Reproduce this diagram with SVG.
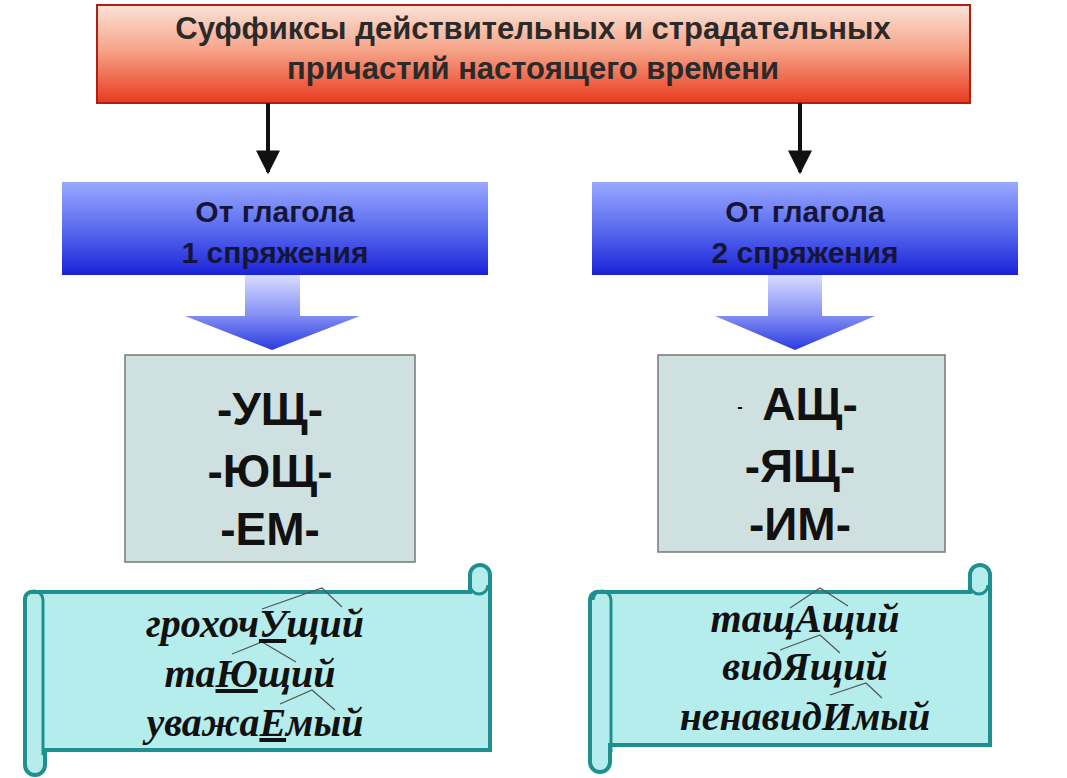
<svg xmlns="http://www.w3.org/2000/svg" width="1067" height="778" viewBox="0 0 1067 778">
<defs>
<linearGradient id="red" x1="0" y1="0" x2="0" y2="1"><stop offset="0" stop-color="#fbe3d6"/><stop offset="0.45" stop-color="#f6a58a"/><stop offset="1" stop-color="#e83a1e"/></linearGradient>
<linearGradient id="blue" x1="0" y1="0" x2="0" y2="1"><stop offset="0" stop-color="#9aa8ff"/><stop offset="0.5" stop-color="#5a6cf0"/><stop offset="1" stop-color="#1a22d8"/></linearGradient>
<linearGradient id="barrow" x1="0" y1="0" x2="0" y2="1"><stop offset="0" stop-color="#d8dcff"/><stop offset="0.5" stop-color="#8a95f5"/><stop offset="1" stop-color="#2a3ae0"/></linearGradient>
<marker id="ah" viewBox="0 0 10 10" refX="9" refY="5" markerWidth="6" markerHeight="6" orient="auto"><path d="M0,0 L10,5 L0,10 z" fill="#111"/></marker>
<style>
.h{font-family:"Liberation Sans",Arial,sans-serif;font-weight:bold;text-anchor:middle}
.t{font-size:31px;fill:#2a2a2a}
.b{font-size:30px;fill:#15153a}
.s{font-size:46px;fill:#111}
.w{font-family:"Liberation Serif","Times New Roman",serif;font-style:italic;font-weight:bold;font-size:40px;fill:#111;text-anchor:middle}
.box{fill:#cfe0e0;stroke:#777;stroke-width:1.5}
.scroll{fill:#b5ecec;stroke:#1f8f8f;stroke-width:4}
.tick{stroke:#555;stroke-width:1.2;fill:none}
</style>
</defs>
<g id="title">
<rect x="97" y="5" width="873" height="98" fill="url(#red)" stroke="#b02010" stroke-width="2"/>
<text class="h t" x="533" y="39">Суффиксы действительных и страдательных</text>
<text class="h t" x="533" y="79">причастий настоящего времени</text>
</g>
<g id="connectors">
<line x1="268" y1="103" x2="268" y2="172" stroke="#111" stroke-width="4" marker-end="url(#ah)"/>
<line x1="800" y1="103" x2="800" y2="172" stroke="#111" stroke-width="4" marker-end="url(#ah)"/>
<path d="M245,275 H300 V316 H360 L272,350 L185,316 H245 Z" fill="url(#barrow)"/>
<path d="M768,275 H822 V316 H875 L795,350 L715,316 H768 Z" fill="url(#barrow)"/>
</g>
<g id="conj1">
<rect x="62" y="182" width="426" height="93" fill="url(#blue)"/>
<text class="h b" x="275" y="222">От глагола</text>
<text class="h b" x="275" y="263">1 спряжения</text>
</g>
<g id="conj2">
<rect x="592" y="182" width="426" height="93" fill="url(#blue)"/>
<text class="h b" x="805" y="222">От глагола</text>
<text class="h b" x="805" y="263">2 спряжения</text>
</g>
<g id="suf1">
<rect class="box" x="125" y="355" width="290" height="207"/>
<text class="h s" x="270" y="425">-УЩ-</text>
<text class="h s" x="270" y="487">-ЮЩ-</text>
<text class="h s" x="270" y="545">-ЕМ-</text>
</g>
<g id="suf2">
<rect class="box" x="658" y="355" width="287" height="197"/>
<text class="h" x="740" y="412" style="font-size:16px">-</text>
<text class="h s" x="810" y="420">АЩ-</text>
<text class="h s" x="800" y="482">-ЯЩ-</text>
<text class="h s" x="800" y="540">-ИМ-</text>
</g>
<g id="ex1">
<path class="scroll" d="M30,592 H470 V575 a10,10 0 0 1 20,0 V750 H45 V765 a10,10 0 0 1 -20,0 V600 a8,8 0 0 1 5,-8 Z"/>
<path d="M25,600 a9,9 0 0 1 18,0 V755" fill="none" stroke="#1f8f8f" stroke-width="3"/>
<path d="M470,585 a9,9 0 0 0 18,0" fill="none" stroke="#1f8f8f" stroke-width="3"/>
<path class="tick" d="M262,609 L322,588 L342,607 M232,654 L262,642 L296,662 M280,704 L312,690 L335,710"/>
<text class="w" x="255" y="637">грохоч<tspan text-decoration="underline">У</tspan>щий</text>
<text class="w" x="250" y="687">та<tspan text-decoration="underline">Ю</tspan>щий</text>
<text class="w" x="255" y="736">уважа<tspan text-decoration="underline">Е</tspan>мый</text>
</g>
<g id="ex2">
<path class="scroll" d="M600,592 H970 V575 a10,10 0 0 1 20,0 V745 H610 V762 a10,10 0 0 1 -20,0 V600 a8,8 0 0 1 10,-8 Z"/>
<path d="M593,600 a9,9 0 0 1 18,0 V752" fill="none" stroke="#1f8f8f" stroke-width="3"/>
<path d="M970,585 a9,9 0 0 0 18,0" fill="none" stroke="#1f8f8f" stroke-width="3"/>
<path class="tick" d="M790,608 L820,588 L848,606 M780,650 L820,635 L840,653 M830,695 L866,683 L882,698"/>
<text class="w" x="805" y="632">тащ<tspan>А</tspan>щий</text>
<text class="w" x="805" y="680">вид<tspan>Я</tspan>щий</text>
<text class="w" x="805" y="730">ненавид<tspan>И</tspan>мый</text>
</g>
</svg>
